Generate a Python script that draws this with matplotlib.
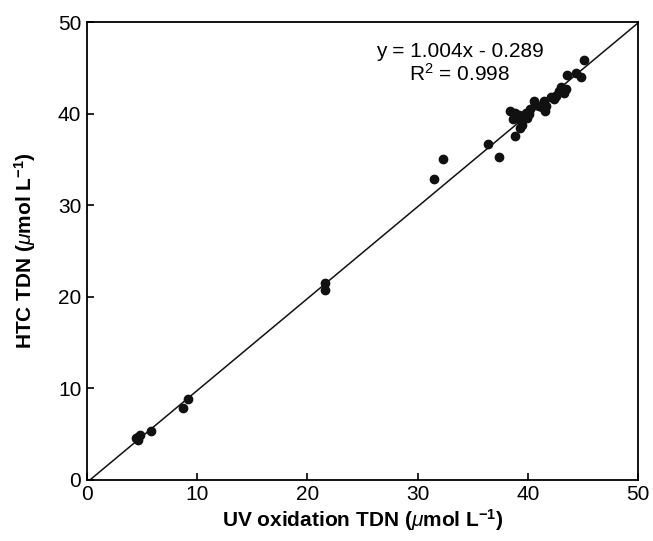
import matplotlib
matplotlib.use('Agg')
import matplotlib.pyplot as plt
import numpy as np

plt.rcParams['font.family'] = ['Liberation Sans', 'DejaVu Sans']
plt.rcParams['mathtext.fontset'] = 'custom'
plt.rcParams['mathtext.rm'] = 'Liberation Sans'
plt.rcParams['mathtext.it'] = 'Liberation Sans:italic'
plt.rcParams['mathtext.bf'] = 'Liberation Sans:bold'

# UV oxidation TDN (x) vs HTC TDN (y), umol/L
uv_tdn = [4.65, 4.65, 4.8, 4.5, 5.8, 8.74, 9.2, 21.6, 21.6,
          31.5, 32.35, 36.4, 37.4,
          38.8, 38.4, 38.8, 39.2, 39.3, 38.7, 39.5, 39.3,
          39.8, 39.9, 40.1, 40.2, 40.6, 40.7,
          41.0, 41.3, 41.5, 41.6, 41.7,
          42.1, 42.4, 42.6, 42.8, 43.0, 43.3, 43.5,
          43.6, 44.4, 44.8, 45.1]
htc_tdn = [4.73, 4.37, 4.9, 4.6, 5.3, 7.9, 8.8, 21.5, 20.7,
           32.9, 35.0, 36.7, 35.3,
           37.6, 40.3, 40.1, 39.9, 39.4, 39.4, 38.8, 38.4,
           40.1, 39.5, 40.0, 40.5, 41.4, 41.0,
           40.8, 40.7, 41.4, 40.3, 40.8,
           41.8, 41.6, 41.9, 42.5, 42.9, 42.3, 42.7,
           44.2, 44.4, 44.0, 45.9]

slope, intercept = 1.004, -0.289
r2 = 0.998

fs = 15

fig = plt.figure(figsize=(6.53, 5.41), dpi=100)
ax = fig.add_axes([0.133, 0.113, 0.844, 0.846])

ax.scatter(uv_tdn, htc_tdn, s=36, color='#111111', zorder=3)
xs = np.array([0, 50])
ax.plot(xs, slope * xs + intercept, color='#111111', lw=1.1)

ax.text(33.85, 46.8, 'y = 1.004x - 0.289', ha='center', va='center', fontsize=fs)
ax.text(33.85, 44.4, 'R$^{2}$ = %.3f' % r2, ha='center', va='center', fontsize=fs)

ax.set_xlim(0, 50)
ax.set_ylim(0, 50)
ax.set_xticks([0, 10, 20, 30, 40, 50])
ax.set_yticks([0, 10, 20, 30, 40, 50])
ax.tick_params(direction='in', length=5, width=1.2, labelsize=fs, pad=4)
for sp in ax.spines.values():
    sp.set_linewidth(1.3)

ax.set_xlabel(r'UV oxidation TDN ($\mu$mol L$^{\mathbf{-1}}$)', fontsize=fs,
              fontweight='bold', labelpad=2)
ax.set_ylabel(r'HTC TDN ($\mu$mol L$^{\mathbf{-1}}$)', fontsize=fs,
              fontweight='bold', labelpad=14)

fig.savefig('out.png', dpi=100)
